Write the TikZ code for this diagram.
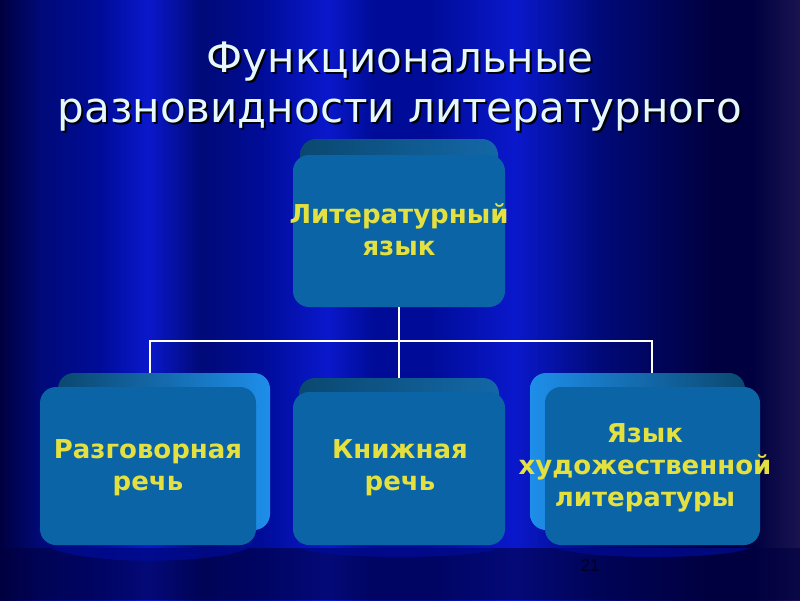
\documentclass[tikz,border=0pt]{standalone}
\usepackage{fontspec}
\setmainfont{DejaVu Sans}
\newfontfamily\titlefont{DejaVu Sans}
\newfontfamily\boldfont{DejaVu Sans}[UprightFont={* Bold}]
\newfontfamily\numfont{Liberation Sans}
\definecolor{bgA}{HTML}{000040}
\definecolor{bgB}{HTML}{000A78}
\definecolor{bgC}{HTML}{000C98}
\definecolor{bgP}{HTML}{0A18CC}
\definecolor{bgR}{HTML}{1A1450}
\definecolor{faceC}{HTML}{0A64A5}
\definecolor{topC}{HTML}{0A4870}
\definecolor{sideC}{HTML}{1E8EEA}
\definecolor{txtC}{HTML}{E4E040}
\definecolor{titleC}{HTML}{E6F8FF}
\newcommand{\shadowline}[1]{\leavevmode\rlap{\hspace{2pt}\raisebox{-2pt}{\textcolor{black}{#1}}}#1}
\tikzset{
  face/.style={rectangle, rounded corners=16pt, fill=faceC, draw=none, inner sep=0pt},
  body/.style={rectangle, rounded corners=16pt, draw=none, inner sep=0pt},
  boxtext/.style={text=txtC, font=\boldfont\fontsize{26}{32}\selectfont, align=center},
  link/.style={draw=white, line width=2pt},
  titletext/.style={font=\titlefont\fontsize{42}{50}\selectfont, align=center}
}
\begin{document}
\begin{tikzpicture}[x=1pt,y=-1pt]
\useasboundingbox (0,0) rectangle (800,600);
% background bands
\foreach \xa/\ca/\xb/\cb in {0/bgA/40/bgB, 40/bgB/100/bgC, 100/bgC/148/bgP, 148/bgP/200/bgB, 200/bgB/262/bgC, 262/bgC/327/bgP, 327/bgP/372/bgC, 372/bgC/430/bgC, 430/bgC/515/bgP, 515/bgP/600/bgB, 600/bgB/712/bgA, 712/bgA/752/bgA, 752/bgA/800/bgR}{
  \shade[left color=\ca, right color=\cb, draw=none] (\xa,0) rectangle (\xb+0.6,600);
}
% curtain bottom
\fill[bgA, opacity=0.6] (0,548) rectangle (800,600);
\fill[bgC, opacity=0.7] (50,548) .. controls (90,565) and (210,565) .. (250,548) -- cycle;
\fill[bgC, opacity=0.7] (300,548) .. controls (330,560) and (470,560) .. (500,548) -- cycle;
\fill[bgC, opacity=0.7] (555,548) .. controls (590,560) and (720,560) .. (750,548) -- cycle;
% title
\node[titletext, text=titleC] (title) at (400,88) {\shadowline{Функциональные}\\\shadowline{разновидности литературного}};
% top box
\node[body, minimum width=198pt, minimum height=140pt, left color=topC, right color=sideC!45!topC] (tbody) at (399,209) {};
\node[face, minimum width=212pt, minimum height=152pt] (tface) at (399,231) {};
\node[boxtext] (ttext) at (399,230) {Литературный\\язык};
% left box
\node[body, minimum width=212pt, minimum height=157pt, left color=topC, right color=sideC] (lbody) at (164,451.5) {};
\node[face, minimum width=216pt, minimum height=158pt] (lface) at (148,466) {};
\node[boxtext] (ltext) at (148,468) {Разговорная\\речь};
% middle box
\node[body, minimum width=200pt, minimum height=156pt, left color=topC, right color=sideC!45!topC] (mbody) at (399,456) {};
\node[face, minimum width=212pt, minimum height=153pt] (mface) at (399,468.5) {};
\node[boxtext] (mtext) at (400,468) {Книжная\\речь};
% right box
\node[body, minimum width=215pt, minimum height=157pt, left color=sideC, right color=topC] (rbody) at (637.5,451.5) {};
\node[face, minimum width=215pt, minimum height=158pt] (rface) at (652.5,466) {};
\node[boxtext] (rtext) at (645,468) {Язык\\художественной\\литературы};
% connectors
\coordinate (jl) at (150,341);
\coordinate (jr) at (652,341);
\draw[link] (tface.south) -- (tface.south |- jl);
\draw[link, line cap=rect] (jl) -- (jr);
\draw[link] (jl) -- (jl |- lbody.north);
\draw[link] (tface.south |- jl) -- (mbody.north);
\draw[link] (jr) -- (jr |- rbody.north);
% page number
\node[font=\numfont\fontsize{17}{20}\selectfont, text=bgA!60!black] (pnum) at (590,566) {21};
\end{tikzpicture}
\end{document}
